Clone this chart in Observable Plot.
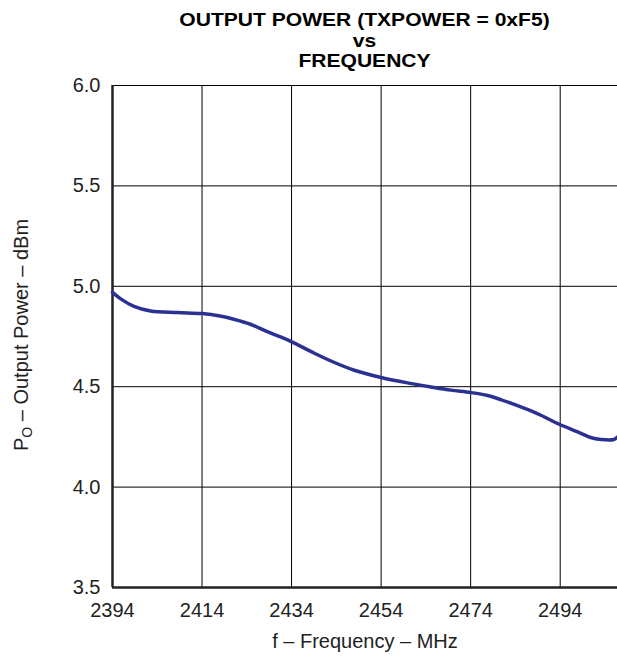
<!DOCTYPE html>
<html>
<head>
<meta charset="utf-8">
<script src="https://cdn.jsdelivr.net/npm/d3@7"></script>
<script src="https://cdn.jsdelivr.net/npm/@observablehq/plot@0.6"></script>
<style>
  html, body { margin: 0; padding: 0; background: #fff; }
  body { width: 617px; height: 658px; overflow: hidden; font-family: "Liberation Sans", Arial, sans-serif; }
  #title { position: relative; width: 617px; height: 75px; }
  #title div { position: absolute; left: 112px; width: 505px; height: 20.5px; text-align: center; font-weight: bold; font-size: 18px; line-height: 20.5px; color: #000; white-space: nowrap; transform: scaleX(1.17); transform-origin: 50% 50%; }
  #chart svg { display: block; }
</style>
</head>
<body>
<div id="title">
  <div style="top:10px">OUTPUT POWER (TXPOWER = 0xF5)</div>
  <div style="top:30.6px">vs</div>
  <div style="top:51.2px">FREQUENCY</div>
</div>
<div id="chart"></div>
<script>
const frequency = [2394, 2396, 2398.8, 2402.5, 2408.5, 2414, 2418, 2421.1, 2424.8, 2429, 2433.8, 2439, 2442.8, 2448, 2454, 2459.9, 2465.1, 2469.6, 2474, 2477.8, 2480.7, 2485.2, 2487.5, 2489.7, 2493.8, 2497.9, 2500.8, 2503.1, 2506, 2506.8];
const power = [4.97, 4.935, 4.90, 4.877, 4.869, 4.864, 4.852, 4.836, 4.811, 4.77, 4.726, 4.668, 4.628, 4.582, 4.546, 4.519, 4.499, 4.483, 4.471, 4.456, 4.436, 4.40, 4.38, 4.358, 4.313, 4.275, 4.247, 4.237, 4.237, 4.25];
const xTicks = [2394, 2414, 2434, 2454, 2474, 2494];
const yTicks = [3.5, 4.0, 4.5, 5.0, 5.5, 6.0];
const xDomain = [2394, 2506.8];
const yDomain = [3.5, 6.0];

const data = frequency.map((f, i) => ({f, p: power[i]}));

const chart = Plot.plot({
  width: 617,
  height: 583,
  marginTop: 10,
  marginBottom: 71,
  marginLeft: 112,
  marginRight: 0,
  style: {fontFamily: "'Liberation Sans', Arial, sans-serif", fontSize: "20px", color: "#222", background: "#fff"},
  x: {domain: xDomain, ticks: xTicks, tickFormat: d => String(d), label: null},
  y: {domain: yDomain, ticks: yTicks, tickFormat: d3.format(".1f"), label: null},
  marks: [
    Plot.gridX(xTicks, {stroke: "#000", strokeOpacity: 1, strokeWidth: 1}),
    Plot.gridY(yTicks, {stroke: "#000", strokeOpacity: 1, strokeWidth: 1}),
    Plot.axisX(xTicks, {tickSize: 0, tickPadding: 15, tickFormat: d => String(d), label: null, fontSize: 20}),
    Plot.axisY(yTicks, {tickSize: 0, tickPadding: 12, tickFormat: d3.format(".1f"), label: null, fontSize: 20}),
    Plot.ruleX([xDomain[0]], {stroke: "#222", strokeWidth: 2.5}),
    Plot.ruleY([yDomain[0]], {stroke: "#222", strokeWidth: 2.5}),
    Plot.line(data, {x: "f", y: "p", stroke: "#2b3192", strokeWidth: 3.5, curve: "catmull-rom"}),
    Plot.text(["f – Frequency – MHz"], {frameAnchor: "bottom", dy: 60, fontSize: 20, fill: "#222"})
  ]
});

document.getElementById("chart").appendChild(chart);

// y-axis label with subscript
const svg = d3.select(chart);
const t = svg.append("text")
  .attr("transform", "translate(28, 260) rotate(-90)")
  .attr("text-anchor", "middle")
  .attr("font-size", 20)
  .attr("fill", "#222")
  .attr("font-family", "'Liberation Sans', Arial, sans-serif");
t.append("tspan").text("P");
t.append("tspan").attr("font-size", 14).attr("dy", 4).text("O");
t.append("tspan").attr("dy", -4).text(" – Output Power – dBm");
</script>
</body>
</html>
